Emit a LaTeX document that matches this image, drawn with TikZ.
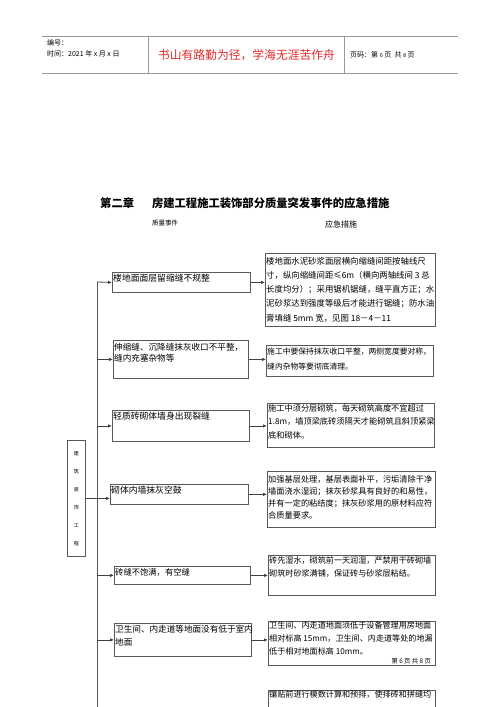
\documentclass[tikz,border=0pt]{standalone}
\usepackage{fontspec}
\setmainfont{Noto Sans CJK SC}
\usetikzlibrary{arrows.meta}
\newcommand\fz[2]{\fontsize{#1}{#2}\selectfont}
\definecolor{motto}{RGB}{224,40,40}
\tikzset{
  bx/.style={draw=black!65, line width=0.8pt, anchor=north west, inner sep=0pt},
  tx/.style={anchor=north west, inner sep=1pt, align=left},
  arr/.style={draw=black!75, line width=0.8pt, -{Latex[length=4pt,width=3.5pt]}},
  ln/.style={draw=black!65, line width=0.8pt},
  hl/.style={draw=black!40, line width=0.9pt},
}
% name, x, y, width, height
\newcommand\qbox[5]{\node[bx, minimum width=#4pt, minimum height=#5pt] (#1) at (#2,#3) {};}
\begin{document}
\begin{tikzpicture}[x=1pt,y=-1pt]
\useasboundingbox (0,0) rectangle (500,707);
% header
\draw[hl] (42,36) -- (458,36);
\draw[hl] (148,36) -- (148,73);
\draw[hl] (344,36) -- (344,73);
\draw[hl] (42,73) -- (458,73);
\node[anchor=west, inner sep=0pt, font=\fz{7}{8}] (h1) at (47,43) {编号：};
\node[anchor=west, inner sep=0pt, font=\fz{7}{8}] (h2) at (47,54) {时间：2021 年 x 月 x 日};
\node[font=\fz{11.8}{13}, text=motto, inner sep=0pt] (h3) at (246.5,55) {书山有路勤为径，学海无涯苦作舟};
\node[anchor=west, inner sep=0pt, font=\fz{7}{8}] (h4) at (350,55) {页码：第 {\fz{5.5}{6}6} 页\ \ 共 {\fz{5.5}{6}8} 页};
% title
\node[anchor=west, font=\fz{11.3}{13}\bfseries, inner sep=0pt] (title) at (100,203) {第二章\hspace{18pt}房建工程施工装饰部分质量突发事件的应急措施};
\node[anchor=west, font=\fz{6.5}{8}, inner sep=0pt] (sub1) at (152,223) {质量事件};
\node[anchor=west, font=\fz{8}{9}, inner sep=0pt] (sub2) at (325,224) {应急措施};
% spine
\coordinate (sp1) at (97,282);
\coordinate (spb) at (97,707);
\draw[ln] (sp1) -- (spb);
% label box
\qbox{lab}{67}{440}{18}{116}
\node[font=\fz{5}{18}, align=center, inner sep=0pt] at (lab.center) {建\\筑\\装\\饰\\工\\程};
% left boxes
\qbox{lb1}{112}{272}{138}{20}
\node[tx, font=\fz{8.8}{11}] at (112,273) {楼地面面层留缩缝不规整};
\qbox{lb2}{113}{340}{135}{38}
\node[tx, font=\fz{8.6}{11.5}] at (113,342) {伸缩缝、沉降缝抹灰收口不平整，\\缝内充塞杂物等};
\qbox{lb3}{112}{410}{137}{31}
\node[tx, font=\fz{8.8}{11}] at (112,411) {轻质砖砌体墙身出现裂缝};
\qbox{lb4}{110}{484}{138}{20}
\node[tx, font=\fz{8.8}{11}] at (110,485) {砌体内墙抹灰空鼓};
\qbox{lb5}{114}{566}{136}{18}
\node[tx, font=\fz{8.3}{11}] at (114,567) {砖缝不饱满，有空缝};
\qbox{lb6}{114}{623}{137}{33}
\node[tx, font=\fz{8.6}{13}] at (114,624) {卫生间、内走道等地面没有低于室内\\地面};
% right boxes
\qbox{rb1}{265}{253}{170}{73}
\node[tx, font=\fz{8.4}{14.2}] at (265,256) {楼地面水泥砂浆面层横向缩缝间距按轴线尺\\寸，纵向缩缝间距≤6m（横向两轴线间 3 总\\长度均分）；采用锯机锯缝，缝平直方正；水\\泥砂浆达到强度等级后才能进行锯缝；防水油\\膏填缝 5mm 宽，见图 18－4－11};
\qbox{rb2}{266}{345}{167}{31}
\node[tx, font=\fz{7.8}{14.5}] at (266,347) {施工中要保持抹灰收口平整，两侧宽度要对称，\\缝内杂物等要彻底清理。};
\qbox{rb3}{267}{403}{167}{44}
\node[tx, font=\fz{8.2}{13.5}] at (267,403) {施工中须分层砌筑，每天砌筑高度不宜超过\\1.8m，墙顶梁底砖须隔天才能砌筑且斜顶紧梁\\底和砌体。};
\qbox{rb4}{267}{471}{168}{56}
\node[tx, font=\fz{8.2}{12.2}] at (267,474) {加强基层处理，基层表面补平，污垢清除干净\\墙面浇水湿润；抹灰砂浆具有良好的和易性，\\并有一定的粘结度；抹灰砂浆用的原材料应符\\合质量要求。};
\qbox{rb5}{268}{555}{167}{40}
\node[tx, font=\fz{8.1}{13}] at (268,555) {砖先湿水，砌筑前一天润湿，严禁用干砖砌墙\\砌筑时砂浆满铺，保证砖与砂浆层粘结。};
\qbox{rb6}{268}{621}{167}{44}
\node[tx, font=\fz{8.1}{13}] at (268,620) {卫生间、内走道地面须低于设备管理用房地面\\相对标高 15mm，卫生间、内走道等处的地漏\\低于相对地面标高 10mm。};
\node[anchor=east, font=\fz{6.3}{7}, inner sep=0pt] (pg) at (431,661) {第\ 6\ 页\ 共\ 8\ 页};
\begin{scope}
\clip (0,0) rectangle (500,707);
\qbox{rb7}{268}{690}{167}{40}
\node[tx, font=\fz{8.1}{13}] at (268,689) {镶贴前进行模数计算和预排，使排砖和拼缝均};
\end{scope}
% arrows from spine
\draw[arr] (sp1) -- (lb1.west);
\draw[arr] (lb2.west -| sp1) -- (lb2.west);
\draw[arr] (lb3.west -| sp1) -- (lb3.west);
\draw[arr] (lab.east) -- (lab.east -| lb4.west);
\draw[arr] (lb5.west -| sp1) -- (lb5.west);
\draw[arr] (lb6.west -| sp1) -- (lb6.west);
% arrows to measures
\draw[arr] (lb1.east) -- (lb1.east -| rb1.west);
\draw[arr] (lb2.east) -- (lb2.east -| rb2.west);
\draw[arr] (lb3.east) -- (lb3.east -| rb3.west);
\draw[arr] (lb4.east) -- (lb4.east -| rb4.west);
\draw[arr] (lb5.east) -- (lb5.east -| rb5.west);
\draw[arr] (lb6.east) -- (lb6.east -| rb6.west);
\end{tikzpicture}
\end{document}
